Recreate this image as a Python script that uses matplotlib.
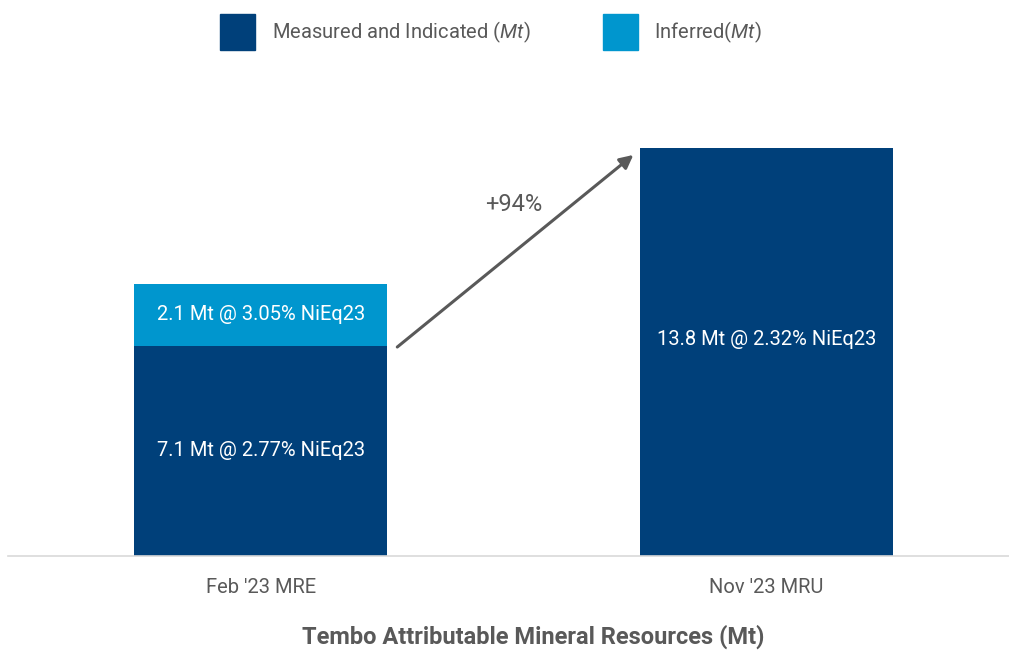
import matplotlib
matplotlib.use("Agg")
import matplotlib.pyplot as plt
from matplotlib.patches import Patch

plt.rcParams['font.family'] = ['Roboto', 'DejaVu Sans']
plt.rcParams['mathtext.fontset'] = 'custom'
plt.rcParams['mathtext.rm'] = 'Roboto'
plt.rcParams['mathtext.it'] = 'Roboto:italic'

# data
categories = ["Feb '23 MRE", "Nov '23 MRU"]
measured_indicated = [7.1, 13.8]
inferred = [2.1, 0.0]
mi_labels = ["7.1 Mt @ 2.77% NiEq23", "13.8 Mt @ 2.32% NiEq23"]
inf_labels = ["2.1 Mt @ 3.05% NiEq23", ""]
growth_label = "+94%"

dark = "#00407A"
light = "#0096CE"
grey = "#595959"

fig = plt.figure(figsize=(10.09, 6.5), dpi=100)
ax = fig.add_axes([8 / 1009, 94 / 650, 1 - 8 / 1009, 444 / 650])

x = [0, 1]
ax.bar(x, measured_indicated, width=0.5, color=dark)
ax.bar(x, inferred, width=0.5, bottom=measured_indicated, color=light)

# labels inside bars
ax.text(0, measured_indicated[0] / 2, mi_labels[0], ha="center", va="center",
        color="white", fontsize=14.5)
ax.text(0, measured_indicated[0] + inferred[0] / 2, inf_labels[0], ha="center",
        va="center", color="white", fontsize=14.5)
ax.text(1, 7.3, mi_labels[1], ha="center", va="center", color="white", fontsize=14.5)

# growth arrow
ax.annotate("", xy=(0.737, 13.55), xytext=(0.27, 7.06),
            arrowprops=dict(arrowstyle="-|>,head_length=0.8,head_width=0.4",
                            color=grey, lw=2.2, shrinkA=0, shrinkB=0))
ax.text(0.5, 11.86, growth_label, ha="center", va="center", color=grey, fontsize=17)

ax.set_xlim(-0.5, 1.48)
ax.set_ylim(0, 15)
ax.set_xticks(x, categories)
ax.tick_params(axis="x", length=0, pad=16, labelsize=14.5, labelcolor=grey)
ax.set_yticks([])
for s in ["top", "right", "left"]:
    ax.spines[s].set_visible(False)
ax.spines["bottom"].set_color("#D9D9D9")
ax.spines["bottom"].set_linewidth(1.2)

handles = [Patch(color=dark, label="Measured and Indicated $\\mathit{(Mt)}$"),
           Patch(color=light, label="Inferred$\\mathit{(Mt)}$")]
leg = fig.legend(handles=handles, loc="center", bbox_to_anchor=(491 / 1009, 1 - 32 / 650),
                 ncol=2, frameon=False, fontsize=14.5, handlelength=1.75, handleheight=2.3,
                 handletextpad=0.8, columnspacing=3.6)
for t in leg.get_texts():
    t.set_color(grey)

fig.text(533 / 1009, 1 - 637 / 650, "Tembo Attributable Mineral Resources (Mt)",
         ha="center", va="center", color=grey, fontsize=17, fontweight="bold")

fig.savefig("out.png", dpi=100)
